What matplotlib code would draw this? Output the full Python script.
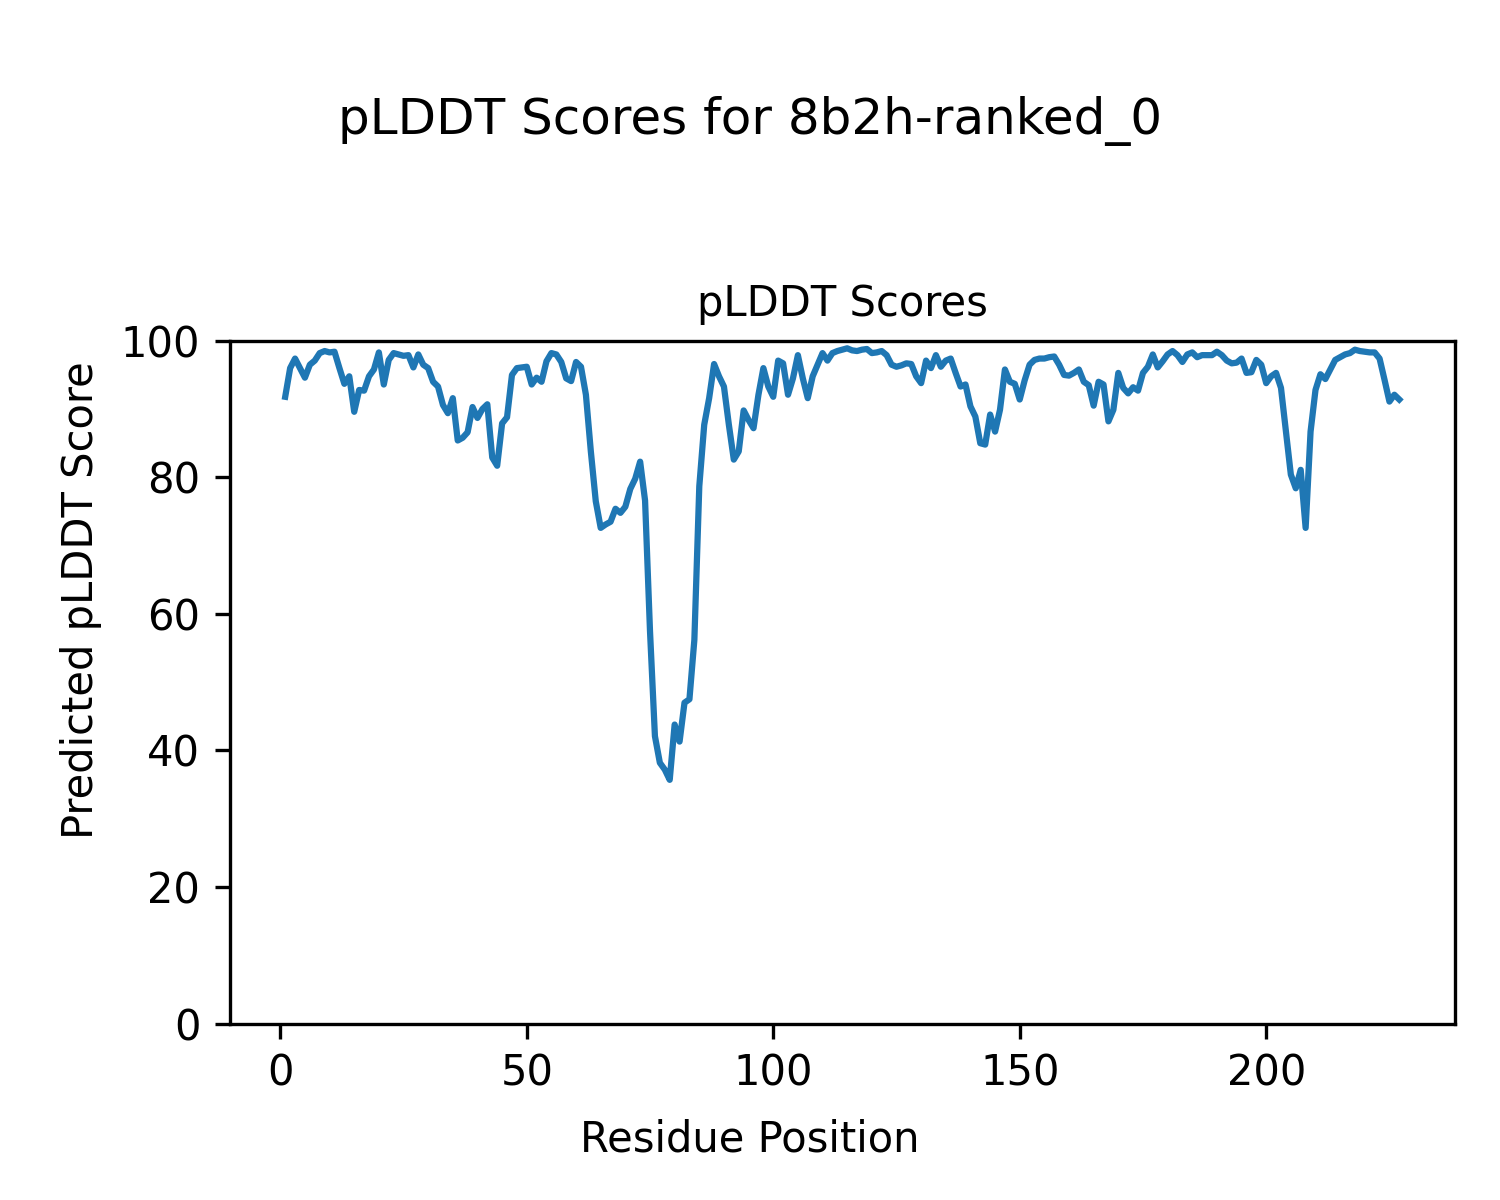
import numpy as np
import matplotlib
matplotlib.use('Agg')
import matplotlib.pyplot as plt

model_name = '8b2h-ranked_0'

# pLDDT per residue
plddt = [
    91.8, 96.0, 97.4, 96.0, 94.6, 96.5, 97.1, 98.2, 98.5, 98.3,
    98.4, 96.0, 93.7, 94.8, 89.6, 92.8, 92.7, 94.8, 95.8, 98.3,
    93.6, 97.2, 98.2, 98.0, 97.8, 97.9, 96.1, 98.0, 96.5, 96.0,
    94.0, 93.3, 90.6, 89.4, 91.6, 85.4, 85.8, 86.6, 90.3, 88.7,
    90.0, 90.7, 82.9, 81.7, 87.9, 88.8, 95.0, 96.0, 96.1, 96.2,
    93.6, 94.6, 94.0, 97.0, 98.2, 98.0, 96.9, 94.5, 94.1, 96.9,
    96.2, 92.1, 83.8, 76.5, 72.6, 73.1, 73.5, 75.4, 74.8, 75.7,
    78.3, 79.8, 82.3, 76.6, 57.5, 42.1, 38.2, 37.2, 35.7, 43.8,
    41.3, 47.0, 47.5, 56.2, 78.7, 87.7, 91.6, 96.6, 94.8, 93.3,
    87.7, 82.6, 83.8, 89.8, 88.4, 87.2, 92.1, 96.0, 93.3, 91.8,
    97.1, 96.7, 92.1, 94.5, 97.9, 94.5, 91.6, 94.8, 96.5, 98.2,
    97.1, 98.2, 98.5, 98.7, 98.9, 98.6, 98.5, 98.7, 98.8, 98.2,
    98.3, 98.5, 97.9, 96.5, 96.2, 96.4, 96.7, 96.6, 94.8, 93.8,
    97.1, 96.0, 97.9, 96.2, 97.1, 97.4, 95.3, 93.3, 93.6, 90.4,
    88.9, 85.0, 84.8, 89.2, 86.7, 89.9, 95.8, 94.0, 93.7, 91.4,
    94.2, 96.5, 97.2, 97.4, 97.4, 97.6, 97.7, 96.5, 95.0, 94.9,
    95.3, 95.8, 94.0, 93.5, 90.5, 94.0, 93.6, 88.2, 89.9, 95.3,
    93.1, 92.3, 93.2, 92.7, 95.3, 96.2, 98.0, 96.1, 97.0, 98.0,
    98.5, 97.9, 96.9, 98.0, 98.3, 97.6, 97.9, 97.9, 97.9, 98.4,
    97.9, 97.1, 96.7, 96.8, 97.4, 95.3, 95.4, 97.2, 96.5, 93.8,
    94.8, 95.3, 93.1, 86.7, 80.4, 78.4, 81.1, 72.6, 86.7, 92.8,
    95.1, 94.4, 95.8, 97.2, 97.6, 98.0, 98.2, 98.7, 98.5, 98.4,
    98.3, 98.3, 97.4, 94.3, 91.1, 92.1, 91.4,
]
residues = np.arange(1, len(plddt) + 1)

fig, ax = plt.subplots(figsize=(5, 4), dpi=300)
fig.subplots_adjust(left=0.153, right=0.97, bottom=0.147, top=0.716)
fig.suptitle('pLDDT Scores for ' + model_name, fontsize=12, y=0.92)

ax.plot(residues, plddt)
ax.set_title('pLDDT Scores', fontsize=10)
ax.set_ylim(0, 100)

# labels are figure-level in the original
fig.supxlabel('Residue Position', fontsize=10, y=0.033)
fig.supylabel('Predicted pLDDT Score', fontsize=10, x=0.04)

plt.savefig('out.png')
